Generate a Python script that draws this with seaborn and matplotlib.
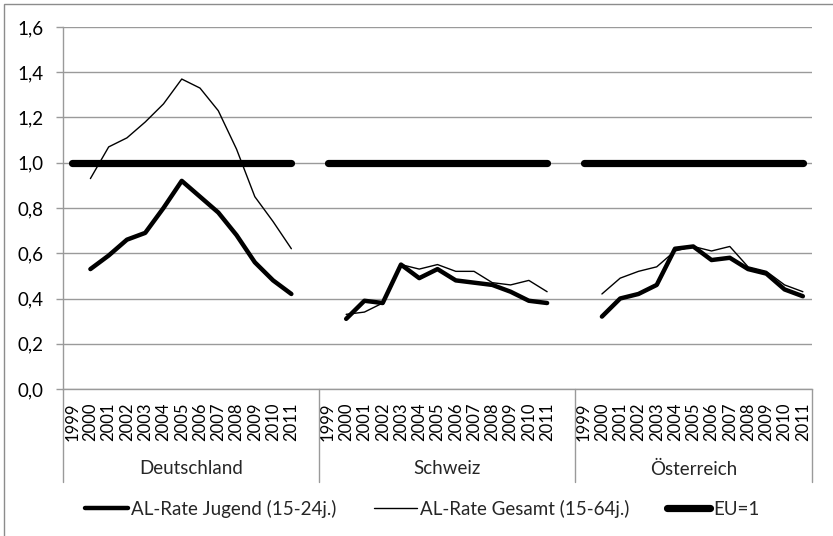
import numpy as np
import pandas as pd
import matplotlib
matplotlib.use("Agg")
import matplotlib.pyplot as plt
import seaborn as sns
from matplotlib.lines import Line2D
from matplotlib.patches import Rectangle

# Kategorien
jahre = ["1999", "2000", "2001", "2002", "2003", "2004", "2005",
         "2006", "2007", "2008", "2009", "2010", "2011"]
laender = ["Deutschland", "Schweiz", "Österreich"]

# Werte (relativ zur EU, 1999 ohne Daten)
jugend_de = [None, 0.53, 0.59, 0.66, 0.69, 0.80, 0.92, 0.85, 0.78, 0.68, 0.56, 0.48, 0.42]
jugend_ch = [None, 0.31, 0.39, 0.38, 0.55, 0.49, 0.53, 0.48, 0.47, 0.46, 0.43, 0.39, 0.38]
jugend_at = [None, 0.32, 0.40, 0.42, 0.46, 0.62, 0.63, 0.57, 0.58, 0.53, 0.51, 0.44, 0.41]

gesamt_de = [None, 0.93, 1.07, 1.11, 1.18, 1.26, 1.37, 1.33, 1.23, 1.06, 0.85, 0.74, 0.62]
gesamt_ch = [None, 0.33, 0.34, 0.38, 0.55, 0.53, 0.55, 0.52, 0.52, 0.47, 0.46, 0.48, 0.43]
gesamt_at = [None, 0.42, 0.49, 0.52, 0.54, 0.61, 0.63, 0.61, 0.63, 0.54, 0.52, 0.46, 0.43]

eu = [1.0] * 13

reihen = ["AL-Rate Jugend (15-24j.)", "AL-Rate Gesamt (15-64j.)", "EU=1"]
werte = {
    reihen[0]: [jugend_de, jugend_ch, jugend_at],
    reihen[1]: [gesamt_de, gesamt_ch, gesamt_at],
    reihen[2]: [eu, eu, eu],
}

# Langformat; zwischen den Ländern bleibt eine leere Kategorie
zeilen = []
for reihe in reihen:
    for gi, land in enumerate(laender):
        for ji, jahr in enumerate(jahre):
            w = werte[reihe][gi][ji]
            if w is not None:
                zeilen.append({"pos": gi * 14 + ji, "wert": w, "reihe": reihe, "land": land})
df = pd.DataFrame(zeilen)

sns.set_theme(style="white")
plt.rcParams["font.family"] = ["Lato", "DejaVu Sans"]
fs = 13.5

fig = plt.figure(figsize=(8.33, 5.36), dpi=100)
ax = fig.add_axes([63 / 833, 1 - 389 / 536, (812 - 63) / 833, (389 - 27) / 536])

breiten = {reihen[0]: 3.2, reihen[1]: 1.0, reihen[2]: 5.2}
sns.lineplot(data=df, x="pos", y="wert", hue="reihe", size="reihe",
             sizes=breiten, palette=["black"] * 3, units="land",
             estimator=None, legend=False, ax=ax)
for ln in ax.lines:
    ln.set_solid_capstyle("round")
    ln.set_solid_joinstyle("round")

grau = "#9a9a9a"
ax.set_xlim(-0.5, 40.5)
ax.set_ylim(0, 1.6)
yt = np.arange(0, 1.61, 0.2)
ax.set_yticks(yt)
ax.set_yticklabels([f"{v:.1f}".replace(".", ",") for v in yt], fontsize=fs, color="black")
ax.yaxis.grid(True, color=grau, lw=1)
ax.set_axisbelow(True)

pos_labels = [gi * 14 + ji for gi in range(3) for ji in range(len(jahre))]
ax.set_xticks(pos_labels)
ax.set_xticklabels(jahre * 3, rotation=90, fontsize=12, color="black")
grenzen = [p - 0.5 for p in range(41)] + [40.5]
ax.set_xticks(grenzen, minor=True)
ax.tick_params(axis="x", which="major", length=0, pad=9.5)
ax.tick_params(axis="x", which="minor", length=38, color=grau, width=1)
ax.tick_params(axis="y", which="major", length=5, color=grau, width=1, left=True, pad=9)

for s in ["top", "right"]:
    ax.spines[s].set_visible(False)
for s in ["left", "bottom"]:
    ax.spines[s].set_color(grau)
    ax.spines[s].set_linewidth(1)
ax.set_xlabel("")
ax.set_ylabel("")

trans = ax.get_xaxis_transform()
for g in [-0.5, 13.5, 27.5, 40.5]:
    ax.plot([g, g], [0, -93 / 362], transform=trans, color=grau, lw=1, clip_on=False)
for gi, land in enumerate(laender):
    mitte = (gi * 14 - 0.5 + min(gi * 14 + 13.5, 40.5)) / 2
    ax.text(mitte, -80 / 362, land, transform=trans, ha="center", va="center", fontsize=fs)

handles = [Line2D([], [], color="black", lw=breiten[r], solid_capstyle="round") for r in reihen]
fig.legend(handles, reihen, loc="center", bbox_to_anchor=(0.507, 1 - 509 / 536), ncol=3,
           frameon=False, fontsize=fs, handlelength=2.3, handletextpad=0.15,
           columnspacing=2.0)

fig.patches.append(Rectangle((4 / 833, -0.1), 1.2, 1 - 4 / 536 + 0.1, transform=fig.transFigure,
                             fill=False, ec="#8c8c8c", lw=1))

fig.savefig("out.png", dpi=100)
